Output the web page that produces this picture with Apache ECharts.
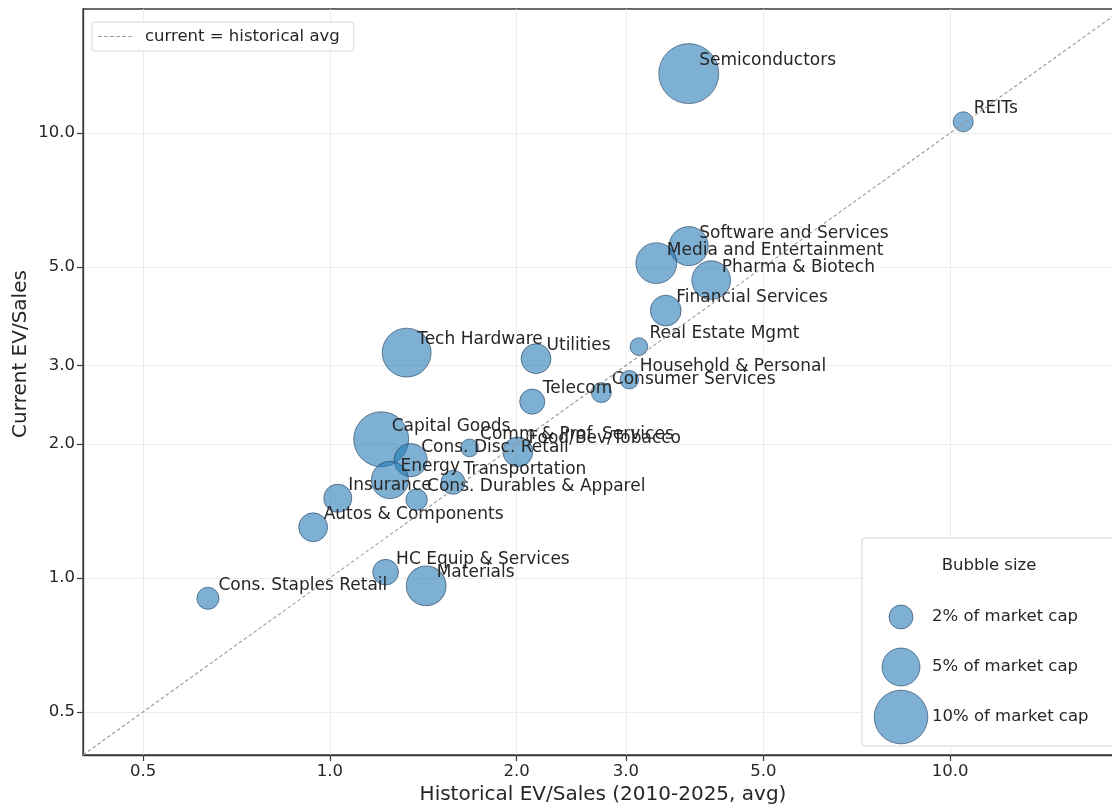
<!DOCTYPE html>
<html>
<head>
<meta charset="utf-8">
<script src="https://cdn.jsdelivr.net/npm/echarts@6/dist/echarts.min.js"></script>
<style>
html,body{margin:0;padding:0;background:#fff;}
#c{width:1112px;height:806px;}
</style>
</head>
<body>
<div id="c"></div>
<script>
// ---- data ----
const sectors = [
  "Semiconductors","REITs","Software and Services","Media and Entertainment",
  "Pharma & Biotech","Financial Services","Real Estate Mgmt","Household & Personal",
  "Consumer Services","Tech Hardware","Utilities","Telecom","Capital Goods",
  "Comm & Prof. Services","Food/Bev/Tobacco","Cons. Disc. Retail","Energy",
  "Transportation","Insurance","Cons. Durables & Apparel","Autos & Components",
  "HC Equip & Services","Materials","Cons. Staples Retail"
];
const historicalEVSales = [3.79,10.5,3.79,3.36,4.12,3.48,3.15,3.04,2.74,1.33,2.15,2.12,1.21,1.68,2.01,1.35,1.25,1.58,1.03,1.38,0.94,1.23,1.43,0.636];
const currentEVSales    = [13.6,10.6,5.57,5.10,4.67,3.99,3.31,2.79,2.61,3.21,3.11,2.49,2.05,1.96,1.92,1.84,1.66,1.64,1.51,1.50,1.30,1.03,0.96,0.90];
const marketCapPct      = [12.5,1.4,5.3,5.8,5.2,3.3,1.1,1.2,1.4,8.3,3.1,2.2,10.5,1.1,3.1,3.8,4.8,2.0,2.7,1.6,2.9,2.3,5.5,1.7];
const tickValues = [0.5,1.0,2.0,3.0,5.0,10.0];
const axisMin = 0.4, axisMax = 19;
const legendCaps = [2,5,10];
const legendLabels = ["2% of market cap","5% of market cap","10% of market cap"];

// ---- helpers ----
const lg = Math.log10;
const sizeFn = cap => 16.97 * Math.sqrt(cap);   // diameter in px (area ∝ market cap)
const FONT = "DejaVu Sans";
const bubbleFill = "rgba(31,119,180,0.58)";
const bubbleEdge = "rgba(20,45,80,0.55)";
const TXT = '#262626';

const points = sectors.map((n,i)=>{
  const d = sizeFn(marketCapPct[i]);
  return {
    value:[lg(historicalEVSales[i]), lg(currentEVSales[i]), marketCapPct[i]],
    name:n,
    label:{position:[d/2+11, d/2-12.5]}
  };
});
const logTicks = tickValues.map(lg);

const chart = echarts.init(document.getElementById('c'), null, {renderer:'canvas'});

function axisCommon(name, gap){
  return {
    type:'value', min:lg(axisMin), max:lg(axisMax),
    name:name, nameLocation:'middle', nameGap:gap,
    nameTextStyle:{fontFamily:FONT,fontSize:20,color:TXT},
    axisLine:{show:true,onZero:false,lineStyle:{color:'#3a3a3a',width:1.3}},
    axisTick:{show:true,inside:false,customValues:logTicks,length:6,lineStyle:{color:'#3a3a3a',width:1.2}},
    axisLabel:{customValues:logTicks,formatter:v=>Math.pow(10,v).toFixed(1),fontFamily:FONT,fontSize:16.5,color:TXT,margin:8},
    splitLine:{show:true,lineStyle:{color:'#ededed',width:1}}
  };
}

const gfx = [];
// y-axis title
gfx.push({type:'text',x:21,y:354,rotation:Math.PI/2,style:{text:'Current EV/Sales',fontFamily:FONT,fontSize:20,fill:TXT,align:'center',verticalAlign:'middle'},z:50});
// bubble-size legend
gfx.push({type:'rect',shape:{x:862,y:538,width:262,height:208,r:3},style:{fill:'#fff',stroke:'#d6d6d6',lineWidth:1},z:100});
gfx.push({type:'text',x:989,y:566,style:{text:'Bubble size',fontFamily:FONT,fontSize:16.5,fill:TXT,align:'center',verticalAlign:'middle'},z:101});
legendCaps.forEach((c,i)=>{
  const cy = 617 + i*50;
  gfx.push({type:'circle',shape:{cx:901,cy:cy,r:sizeFn(c)/2},style:{fill:bubbleFill,stroke:bubbleEdge,lineWidth:1},z:101});
  gfx.push({type:'text',x:932,y:cy,style:{text:legendLabels[i],fontFamily:FONT,fontSize:16.5,fill:TXT,align:'left',verticalAlign:'middle'},z:101});
});

const dashIcon = 'path://M0 0h3.6v1.2h-3.6z M6 0h3.6v1.2h-3.6z M12 0h3.6v1.2h-3.6z M18 0h3.6v1.2h-3.6z M24 0h3.6v1.2h-3.6z M30 0h3.6v1.2h-3.6z';

chart.setOption({
  animation:false,
  backgroundColor:'#fff',
  textStyle:{fontFamily:FONT},
  grid:{left:83,width:1040,top:9,height:746,show:true,borderColor:'#3a3a3a',borderWidth:1.3,containLabel:false,outerBoundsMode:'none'},
  legend:{
    left:92, top:22, orient:'horizontal',
    data:[{name:'current = historical avg', icon:dashIcon}],
    itemWidth:34, itemHeight:1.3,
    padding:[6,14,6,6],
    backgroundColor:'#fff', borderColor:'#d6d6d6', borderWidth:1, borderRadius:3,
    textStyle:{fontFamily:FONT,fontSize:16.5,color:TXT,padding:[0,0,0,8]}
  },
  xAxis: axisCommon('Historical EV/Sales (2010-2025, avg)', 26),
  yAxis: Object.assign(axisCommon('', 52), {name:''}),
  series:[
    {
      name:'sectors', type:'scatter', z:2,
      data:points,
      symbolSize:v=>sizeFn(v[2]),
      itemStyle:{color:bubbleFill,borderColor:bubbleEdge,borderWidth:1,opacity:1},
      label:{show:true,align:'left',verticalAlign:'middle',
        formatter:p=>p.name,fontFamily:FONT,fontSize:17,color:TXT},
      emphasis:{disabled:true}
    },
    {
      name:'current = historical avg', type:'line', z:3,
      data:[[lg(axisMin),lg(axisMin)],[lg(axisMax),lg(axisMax)]],
      symbol:'none', silent:true,
      lineStyle:{color:'#9a9a9a',width:1.1,type:[3.5,2.5]},
      itemStyle:{color:'#9a9a9a'}
    }
  ],
  graphic:gfx
});
</script>
</body>
</html>
